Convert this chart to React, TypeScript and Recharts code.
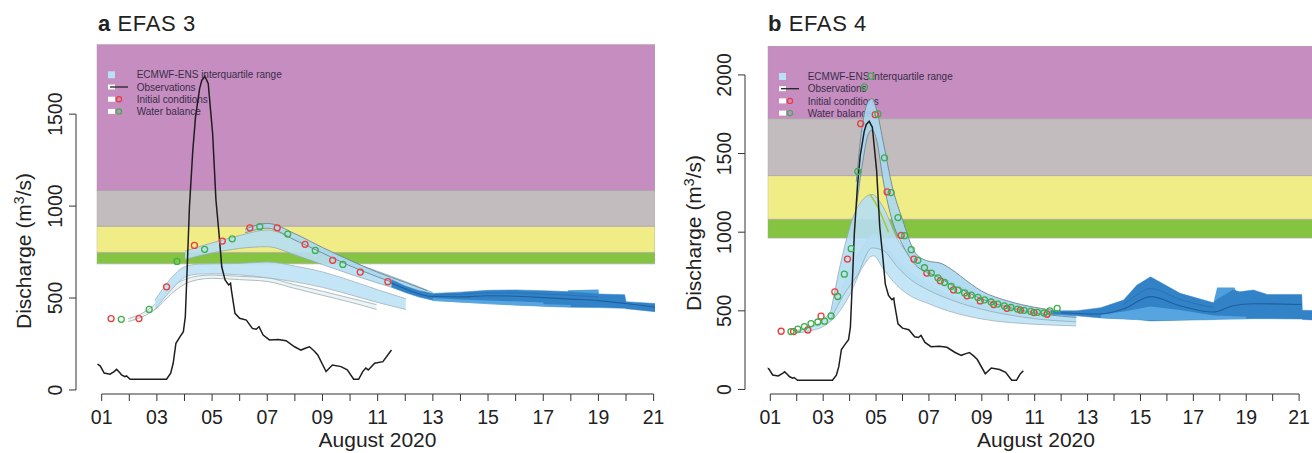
import React from 'react';
import { ComposedChart, Area, Line, XAxis, YAxis, ReferenceArea } from 'recharts';

type P = [number, number];
type R = [number, number, number];

// ---------- shared ----------
const DAY_TICKS = [1, 2, 3, 4, 5, 6, 7, 8, 9, 10, 11, 12, 13, 14, 15, 16, 17, 18, 19, 20, 21];
const DAY_LABELS = ['01', '', '03', '', '05', '', '07', '', '09', '', '11', '', '13', '', '15', '', '17', '', '19', '', '21'];
const X_TITLE = 'August 2020';
const Y_TITLE = 'Discharge (m';
const LEGEND_LABELS = ['ECMWF-ENS interquartile range', 'Observations', 'Initial conditions', 'Water balance'];
const BAND_COLORS = ['#85c441', '#f0ed87', '#c3bcbe', '#c58dc0'];

// observed discharge (day of August, m3/s)
const OBS: P[] = [
  [0.85, 140], [0.95, 130], [1.09, 92], [1.3, 86], [1.45, 100], [1.54, 112], [1.65, 95], [1.72, 82], [1.84, 72],
  [1.9, 76], [2.03, 58], [3.35, 58], [3.5, 91], [3.59, 145], [3.69, 254], [3.84, 290], [3.96, 317], [4.03, 398],
  [4.1, 670], [4.18, 996], [4.3, 1300], [4.4, 1485], [4.55, 1640], [4.63, 1685], [4.74, 1705], [4.86, 1667],
  [5.02, 1395], [5.14, 1033], [5.25, 852], [5.35, 670], [5.47, 598], [5.6, 571], [5.67, 580], [5.7, 543],
  [5.83, 417], [6.0, 390], [6.24, 380], [6.46, 335], [6.6, 330], [6.7, 344], [6.85, 299], [7.08, 272], [7.4, 275],
  [7.68, 268], [7.99, 235], [8.22, 217], [8.4, 228], [8.53, 235], [8.7, 212], [8.83, 190], [9.13, 100], [9.36, 136],
  [9.67, 127], [9.9, 109], [10.13, 58], [10.31, 58], [10.46, 100], [10.57, 119], [10.66, 109], [10.89, 145],
  [11.19, 154], [11.5, 217],
];
const OBS_END_B = 10.57;

// ---------- panel a (EFAS 3) ----------
const THRESH_A = [686, 748, 891, 1085];
const Y_TICKS_A = [0, 500, 1000, 1500];
const RED_A: P[] = [[1.34, 388], [2.35, 388], [3.35, 561], [4.36, 786], [5.37, 810], [6.37, 882], [7.36, 882], [8.37, 792], [9.37, 705], [10.37, 641], [11.37, 589]];
const GREEN_A: P[] = [[1.71, 384], [2.72, 438], [3.73, 699], [4.73, 765], [5.73, 822], [6.73, 888], [7.74, 848], [8.74, 759], [9.74, 683]];
const FC_A_GREY: R[] = [[1.96, 372, 388], [2.5, 400, 420], [3, 445, 475], [3.5, 520, 560], [4, 575, 600], [4.5, 600, 620], [5, 607, 625], [6, 600, 618], [7, 590, 610], [8, 552, 572], [9, 515, 537], [10, 478, 500], [10.96, 438, 464]];
const FC_A_LOW: R[] = [[2.93, 438, 488], [3.5, 540, 605], [4, 612, 670], [4.5, 630, 684], [5, 632, 686], [6, 626, 688], [7, 610, 696], [8, 588, 674], [9, 558, 642], [10, 518, 596], [11, 476, 545], [12.02, 438, 496]];
const FC_A_UP: R[] = [[4.02, 710, 755], [5, 745, 800], [6, 770, 840], [7, 779, 870], [8, 735, 820], [9, 682, 760], [10, 630, 700], [11, 582, 645], [12, 535, 590], [13, 490, 530]];
const FC_A_TOP: R[] = [[6.2, 855, 875], [7, 880, 906], [8, 815, 850], [9, 745, 775], [10, 675, 705], [11, 615, 640], [12, 560, 585], [12.8, 520, 540]];
const EXT_A_STEP: R[] = [[17.9, 470, 542], [19.0, 470, 546], [19.02, 470, 520]];
const EXT_A_DARK: R[] = [[11.5, 560, 600], [12, 530, 565], [12.5, 505, 540], [13, 488, 525], [14, 478, 532], [15, 472, 542], [16, 462, 544], [17, 455, 540], [18, 450, 534], [19, 448, 522], [19.95, 444, 518], [20.0, 442, 480], [21.05, 426, 470]];
const EXT_A_MID: R[] = [[13, 484, 500], [14, 475, 492], [15, 466, 486], [16, 460, 482], [17, 455, 476], [17.02, 455, 466], [18, 452, 462]];
const EXT_A_MED: P[] = [[11.5, 582], [12, 550], [13, 508], [14, 506], [15, 512], [16, 510], [17, 502], [18, 494], [19, 486], [20, 470], [21.05, 450]];
const EXT_A_MED2: P[] = [[13, 515], [14, 520], [15, 528], [16, 528], [17, 522], [18, 515], [19, 505]];

// ---------- panel b (EFAS 4) ----------
const THRESH_B = [963, 1082, 1360, 1722];
const Y_TICKS_B = [0, 500, 1000, 1500, 2000];
const RED_B: P[] = [[1.41, 370], [1.88, 368], [2.42, 378], [2.92, 466], [3.44, 621], [3.92, 829], [4.42, 1690], [4.97, 1747], [5.42, 1256], [5.95, 980], [6.43, 829], [6.92, 740], [7.43, 691], [7.93, 633], [8.44, 595], [8.94, 563], [9.45, 540], [9.95, 516], [10.46, 505], [10.97, 489], [11.47, 478]];
const GREEN_B: P[] = [[1.78, 368], [2.04, 383], [2.29, 400], [2.54, 419], [2.8, 429], [3.05, 434], [3.3, 467], [3.55, 591], [3.8, 733], [4.06, 895], [4.31, 1386], [4.56, 1924], [4.81, 1992], [5.07, 1752], [5.32, 1473], [5.57, 1252], [5.83, 1093], [6.08, 978], [6.33, 889], [6.58, 821], [6.83, 774], [7.09, 740], [7.34, 710], [7.59, 680], [7.84, 655], [8.1, 631], [8.35, 614], [8.6, 600], [8.85, 585], [9.1, 570], [9.35, 556], [9.6, 543], [9.85, 531], [10.1, 521], [10.35, 511], [10.6, 503], [10.85, 496], [11.1, 490], [11.35, 486], [11.57, 499], [11.85, 515]];
const FC_B_LOW: R[] = [[1.9, 358, 375], [2.5, 372, 395], [3, 400, 440], [3.5, 470, 560], [4, 600, 760], [4.5, 780, 900], [4.9, 850, 990], [5.3, 760, 920], [5.8, 660, 820], [6.3, 595, 740], [7, 545, 660], [7.5, 512, 620], [8.5, 465, 560], [9.5, 435, 515], [10.5, 420, 490], [12.57, 404, 462]];
const FC_B_MID: R[] = [[3.3, 450, 505], [3.77, 600, 880], [4.27, 720, 1150], [4.85, 900, 1240], [5.3, 880, 1150], [5.8, 780, 960], [6.3, 700, 850], [7, 630, 760], [8, 560, 670], [9, 510, 600], [10, 475, 555], [11, 450, 520], [12.57, 430, 480]];
const FC_B_PEAK: R[] = [[4.25, 1150, 1320], [4.5, 1450, 1700], [4.7, 1620, 1830], [4.85, 1650, 1850], [5.0, 1600, 1790], [5.3, 1300, 1550], [5.6, 1080, 1300], [6, 920, 1080], [6.5, 790, 865], [7, 740, 815], [7.4, 710, 805], [7.8, 670, 770], [8.2, 640, 720], [9, 575, 625], [10, 522, 562], [11, 487, 522], [12, 466, 496], [12.57, 458, 485]];
const FC_B_WB: P[] = [[4.77, 1240], [5.0, 1180], [5.47, 1000]];
const EXT_B_STEP: R[] = [[17.76, 500, 551], [17.9, 500, 649], [18.55, 500, 649], [18.62, 500, 622]];
const EXT_B_DARK: R[] = [[11.6, 478, 500], [12.6, 468, 500], [13.5, 455, 520], [14.36, 448, 568], [14.86, 444, 663], [15.38, 436, 716], [16.5, 440, 611], [17.76, 444, 551], [17.9, 446, 572], [18.5, 448, 632], [18.76, 448, 621], [19.27, 450, 632], [19.8, 450, 604], [21.1, 448, 604], [21.12, 445, 504], [21.78, 440, 500]];
const EXT_B_MID: R[] = [[13.5, 455, 475], [14.36, 448, 495], [15.38, 440, 528], [16.5, 442, 505], [17.76, 444, 470], [19.0, 448, 462]];
const EXT_B_MED: P[] = [[12, 488], [13.5, 480], [14.36, 512], [15.38, 590], [16.5, 532], [17.76, 492], [18.5, 532], [19.27, 545], [21.1, 540]];
const EXT_B_MED2: P[] = [[14.36, 540], [14.86, 600], [15.38, 642], [16.5, 572], [17.76, 520]];

// ---------- helpers ----------
const pts = (a: P[]) => a.map(([d, v]) => ({ d, v }));
const rng = (a: R[]) => a.map(([d, lo, hi]) => ({ d, r: [lo, hi] }));

const FONT = '"Liberation Sans", Arial, Helvetica, sans-serif';
const H = 453;

type Cfg = {
  left: number; width: number; plotLeft: number; plotRight: number; plotTop: number; plotBottom: number;
  xDomain: [number, number]; yDomain: [number, number]; yTicks: number[]; axisGap: number;
};

const CFG_A: Cfg = { left: 0, width: 672, plotLeft: 96.7, plotRight: 655, plotTop: 44.3, plotBottom: 394, xDomain: [0.819, 21.05], yDomain: [-22, 1880], yTicks: Y_TICKS_A, axisGap: 20.7 };
const CFG_B: Cfg = { left: 660, width: 660, plotLeft: 107.7, plotRight: 660, plotTop: 46, plotBottom: 394, xDomain: [0.902, 21.79], yDomain: [-29, 2184], yTicks: Y_TICKS_B, axisGap: 22.7 };

function makeYTick(cfg: Cfg) {
  const ppu = (cfg.plotBottom - cfg.plotTop) / (cfg.yDomain[1] - cfg.yDomain[0]);
  const ax = cfg.plotLeft - cfg.axisGap;
  return (props: any) => {
    const { y, payload, index } = props;
    const v = payload.value;
    const isLast = index === cfg.yTicks.length - 1;
    const step = isLast ? 0 : (cfg.yTicks[index + 1] - v) * ppu;
    const tx = ax - 14;
    return (
      <g>
        <line x1={ax - 7} y1={y} x2={ax} y2={y} stroke="#333" strokeWidth={1} />
        {!isLast && <line x1={ax} y1={y} x2={ax} y2={y - step} stroke="#333" strokeWidth={1} />}
        <text x={tx} y={y} transform={`rotate(-90 ${tx} ${y})`} textAnchor="middle" fontSize={19.5} fontFamily={FONT} fill="#222">{v}</text>
      </g>
    );
  };
}

function makeXTick(cfg: Cfg) {
  const ppd = (cfg.plotRight - cfg.plotLeft) / (cfg.xDomain[1] - cfg.xDomain[0]);
  const ay = cfg.plotBottom;
  return (props: any) => {
    const { x, payload, index } = props;
    const i = DAY_TICKS.indexOf(payload.value);
    const isLast = i === DAY_TICKS.length - 1;
    return (
      <g key={index}>
        <line x1={x} y1={ay} x2={x} y2={ay + 7} stroke="#333" strokeWidth={1} />
        {!isLast && <line x1={x} y1={ay} x2={x + ppd} y2={ay} stroke="#333" strokeWidth={1} />}
        <text x={x} y={ay + 30} textAnchor="middle" fontSize={19.5} fontFamily={FONT} fill="#222">{DAY_LABELS[i]}</text>
      </g>
    );
  };
}

const LegendG = (props: any) => {
  const vb = props.viewBox || {};
  const x0 = (vb.x ?? 0) + 11.3;
  const y0 = (vb.y ?? 0) + 30.5;
  const tx = (vb.x ?? 0) + 40;
  const dy = 12.2;
  return (
    <g>
      <rect x={x0} y={y0 - 3.5} width={7} height={7} fill="#b9e0f4" />
      <rect x={x0} y={y0 + dy - 2.5} width={7} height={5} fill="#ffffff" />
      <line x1={x0 + 2} y1={y0 + dy} x2={x0 + 20} y2={y0 + dy} stroke="#222" strokeWidth={1.3} />
      <rect x={x0} y={y0 + 2 * dy - 2.5} width={7} height={5} fill="#ffffff" />
      <circle cx={x0 + 11} cy={y0 + 2 * dy} r={2.6} fill="none" stroke="#ee3b3b" strokeWidth={1.2} />
      <rect x={x0} y={y0 + 3 * dy - 2.5} width={7} height={5} fill="#ffffff" />
      <circle cx={x0 + 11} cy={y0 + 3 * dy} r={2.6} fill="none" stroke="#3cb04a" strokeWidth={1.2} />
      {LEGEND_LABELS.map((t, i) => (
        <text key={t} x={tx} y={y0 + i * dy + 3.6} fontSize={10} fontFamily={FONT} fill="#3a2d48">{t}</text>
      ))}
    </g>
  );
};

const redDot = { r: 3, stroke: '#ee3b3b', strokeWidth: 1.3, fill: 'none' };
const greenDot = { r: 3, stroke: '#3cb04a', strokeWidth: 1.3, fill: 'none' };

type Series = {
  thresh: number[];
  obs: P[];
  red: P[];
  green: P[];
  grey?: R[];
  low: R[];
  mid: R[];
  top: R[];
  wb?: P[];
  step: R[];
  dark: R[];
  darkMid: R[];
  med: P[];
  med2: P[];
};

function Panel({ cfg, s }: { cfg: Cfg; s: Series }) {
  const bounds = [...s.thresh, cfg.yDomain[1]];
  return (
    <div style={{ position: 'absolute', left: cfg.left, top: 0 }}>
      <ComposedChart
        width={cfg.width}
        height={H}
        margin={{ top: cfg.plotTop, right: cfg.width - cfg.plotRight, bottom: 0, left: 0 }}
      >
        <XAxis
          dataKey="d"
          type="number"
          domain={cfg.xDomain}
          allowDataOverflow
          ticks={DAY_TICKS}
          interval={0}
          height={H - cfg.plotBottom}
          axisLine={false}
          tickLine={false}
          tickSize={0}
          tick={makeXTick(cfg)}
        />
        <YAxis
          type="number"
          domain={cfg.yDomain}
          allowDataOverflow
          ticks={cfg.yTicks}
          interval={0}
          width={cfg.plotLeft}
          axisLine={false}
          tickLine={false}
          tickSize={0}
          tick={makeYTick(cfg)}
        />
        {bounds.slice(0, -1).map((lo, i) => (
          <ReferenceArea
            key={'band' + i}
            x1={cfg.xDomain[0]}
            x2={cfg.xDomain[1]}
            y1={lo}
            y2={bounds[i + 1]}
            fill={BAND_COLORS[i]}
            fillOpacity={1}
            stroke="#a9a3a8"
            strokeWidth={0.7}
            ifOverflow="hidden"
            label={i === bounds.length - 2 ? <LegendG /> : undefined}
          />
        ))}
        {s.grey && (
          <Area data={rng(s.grey)} dataKey="r" type="monotone" fill="#eaf3f6" fillOpacity={0.95} stroke="#9eabb0" strokeWidth={0.8} isAnimationActive={false} />
        )}
        <Area data={rng(s.low)} dataKey="r" type="monotone" fill="#bde2f5" fillOpacity={0.9} stroke="#9fb3bd" strokeWidth={0.8} isAnimationActive={false} />
        <Area data={rng(s.mid)} dataKey="r" type="monotone" fill="#b6def3" fillOpacity={0.9} stroke="#93a9b4" strokeWidth={0.8} isAnimationActive={false} />
        <Area data={rng(s.top)} dataKey="r" type="monotone" fill="#aad7f0" fillOpacity={0.9} stroke="#6f8792" strokeWidth={0.9} isAnimationActive={false} />
        {s.wb && (
          <Line data={pts(s.wb)} dataKey="v" type="monotone" stroke="#a6cc3a" strokeWidth={1.6} dot={false} isAnimationActive={false} />
        )}
        <Area data={rng(s.step)} dataKey="r" type="linear" fill="#4f9fdd" fillOpacity={1} stroke="none" isAnimationActive={false} />
        <Area data={rng(s.dark)} dataKey="r" type="linear" fill="#3282c8" fillOpacity={1} stroke="#3282c8" strokeWidth={0.5} isAnimationActive={false} />
        <Area data={rng(s.darkMid)} dataKey="r" type="linear" fill="#5ba8e2" fillOpacity={0.9} stroke="none" isAnimationActive={false} />
        <Line data={pts(s.med2)} dataKey="v" type="monotone" stroke="#2a72b6" strokeWidth={1} dot={false} isAnimationActive={false} />
        <Line data={pts(s.med)} dataKey="v" type="monotone" stroke="#1d609e" strokeWidth={1.1} dot={false} isAnimationActive={false} />
        <Line data={pts(s.obs)} dataKey="v" type="linear" stroke="#1e1e1e" strokeWidth={1.5} dot={false} isAnimationActive={false} />
        <Line data={pts(s.red)} dataKey="v" stroke="none" dot={redDot} isAnimationActive={false} />
        <Line data={pts(s.green)} dataKey="v" stroke="none" dot={greenDot} isAnimationActive={false} />
      </ComposedChart>
    </div>
  );
}

const SERIES_A: Series = {
  thresh: THRESH_A, obs: OBS, red: RED_A, green: GREEN_A, grey: FC_A_GREY, low: FC_A_LOW, mid: FC_A_UP, top: FC_A_TOP,
  step: EXT_A_STEP, dark: EXT_A_DARK, darkMid: EXT_A_MID, med: EXT_A_MED, med2: EXT_A_MED2,
};
const SERIES_B: Series = {
  thresh: THRESH_B, obs: OBS.filter(([d]) => d <= OBS_END_B), red: RED_B, green: GREEN_B, low: FC_B_LOW, mid: FC_B_MID, top: FC_B_PEAK,
  wb: FC_B_WB, step: EXT_B_STEP, dark: EXT_B_DARK, darkMid: EXT_B_MID, med: EXT_B_MED, med2: EXT_B_MED2,
};

function Titles() {
  const yt = (x: number, cy: number) => (
    <text x={x} y={cy} transform={`rotate(-90 ${x} ${cy})`} textAnchor="middle" fontSize={21} fontFamily={FONT} fill="#222">
      {Y_TITLE}
      <tspan dy={-7} fontSize={14}>3</tspan>
      <tspan dy={7}>/s)</tspan>
    </text>
  );
  return (
    <svg width={1312} height={453} style={{ position: 'absolute', left: 0, top: 0, pointerEvents: 'none' }}>
      <text x={98} y={31} fontSize={22} letterSpacing={0.6} fontFamily={FONT} fill="#222">
        <tspan fontWeight="bold">a</tspan> EFAS 3
      </text>
      <text x={768} y={31} fontSize={22} letterSpacing={0.6} fontFamily={FONT} fill="#222">
        <tspan fontWeight="bold">b</tspan> EFAS 4
      </text>
      {yt(31, 251)}
      {yt(701, 233)}
      <text x={377.5} y={447} textAnchor="middle" fontSize={21} fontFamily={FONT} fill="#222">{X_TITLE}</text>
      <text x={1036} y={447} textAnchor="middle" fontSize={21} fontFamily={FONT} fill="#222">{X_TITLE}</text>
    </svg>
  );
}

export default function App() {
  return (
    <div style={{ position: 'absolute', left: 0, top: 0, width: 1312, height: 453, overflow: 'hidden', background: '#fff' }}>
      <Panel cfg={CFG_A} s={SERIES_A} />
      <Panel cfg={CFG_B} s={SERIES_B} />
      <Titles />
    </div>
  );
}
